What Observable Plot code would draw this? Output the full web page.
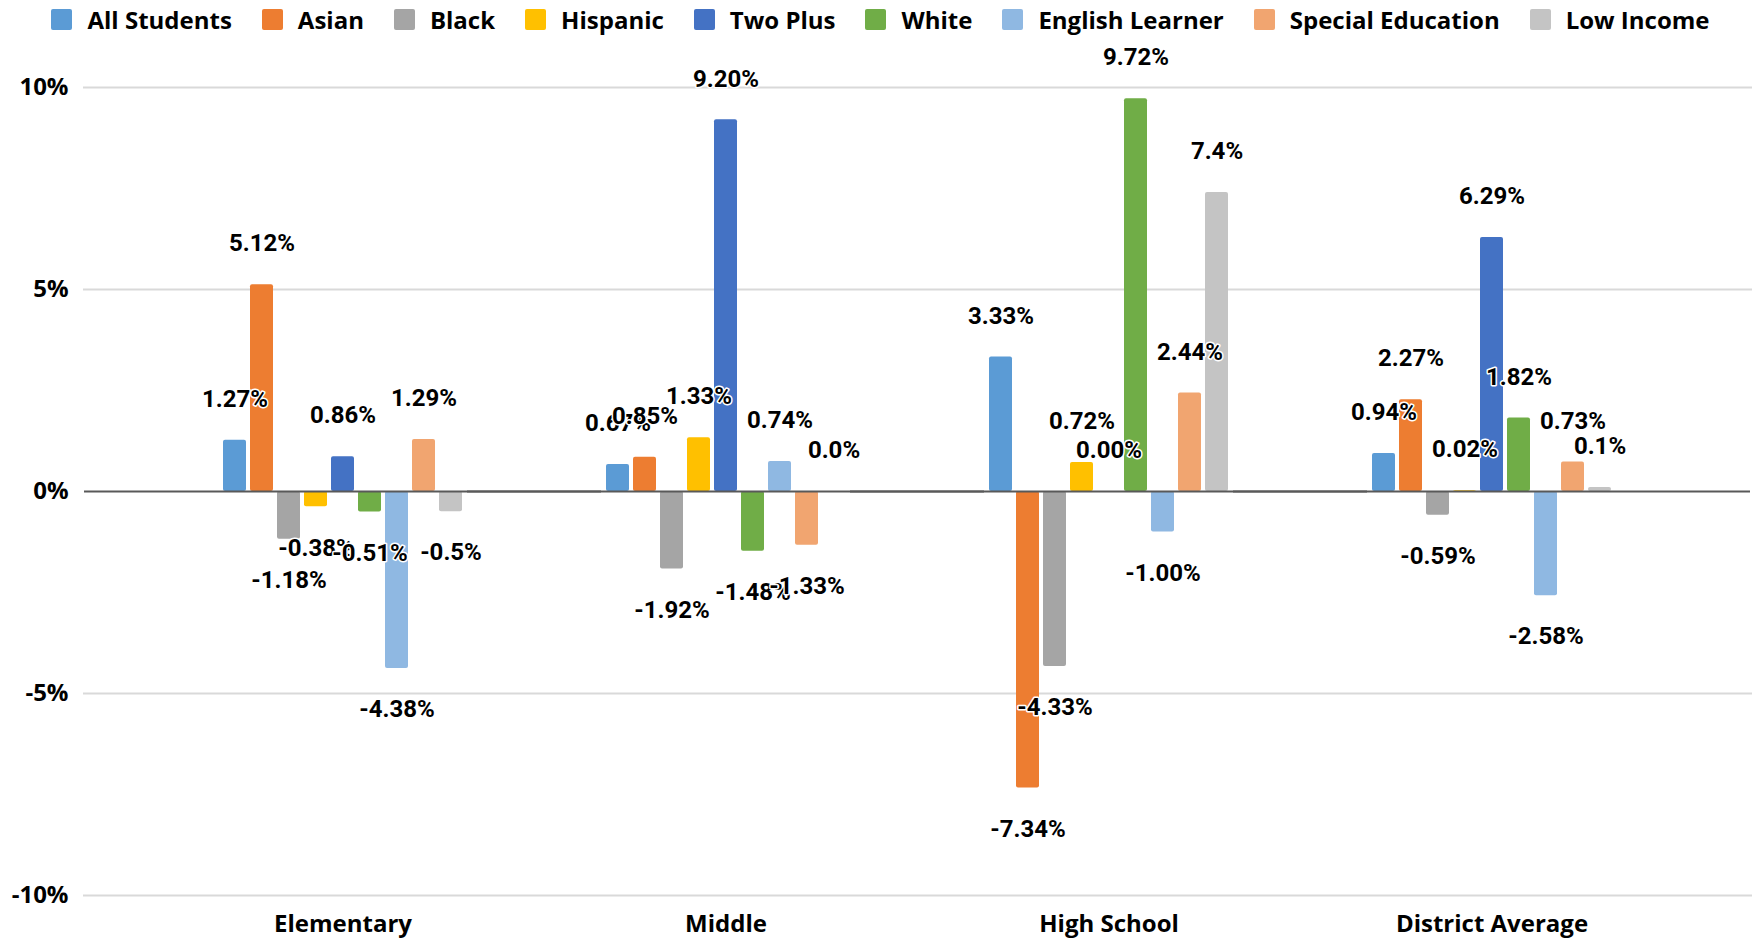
<!DOCTYPE html>
<html>
<head>
<meta charset="utf-8">
<script src="https://cdn.jsdelivr.net/npm/d3@7"></script>
<script src="https://cdn.jsdelivr.net/npm/@observablehq/plot@0.6"></script>
<style>
  html, body { margin: 0; padding: 0; background: #fff; }
  body { width: 1761px; height: 938px; overflow: hidden; font-family: "Open Sans", sans-serif; }
  #legend { height: 38px; display: flex; justify-content: center; align-items: center; }
  .item { display: flex; align-items: center; margin: 0 15px; font-weight: 700; font-size: 24px; color: #000; }
  .swatch { width: 21px; height: 21px; margin-right: 15px; border-radius: 2px; }
  #chart { position: relative; width: 1761px; height: 900px; }
  #chart svg { position: absolute; left: 0; top: 0; }
</style>
</head>
<body>
<div id="legend"></div>
<div id="chart"></div>
<script>
const categories = ["Elementary", "Middle", "High School", "District Average"];
const series = ["All Students", "Asian", "Black", "Hispanic", "Two Plus", "White", "English Learner", "Special Education", "Low Income"];
const seriesColors = ["#5B9BD5", "#ED7D31", "#A5A5A5", "#FFC000", "#4472C4", "#70AD47", "#8FB8E2", "#F1A570", "#C4C4C4"];

const elementaryValues = [1.27, 5.12, -1.18, -0.38, 0.86, -0.51, -4.38, 1.29, -0.5];
const middleValues     = [0.67, 0.85, -1.92, 1.33, 9.20, -1.48, 0.74, -1.33, 0.0];
const highSchoolValues = [3.33, -7.34, -4.33, 0.72, 0.00, 9.72, -1.00, 2.44, 7.4];
const districtValues   = [0.94, 2.27, -0.59, 0.02, 6.29, 1.82, -2.58, 0.73, 0.1];

const elementaryLabels = ["1.27%", "5.12%", "-1.18%", "-0.38%", "0.86%", "-0.51%", "-4.38%", "1.29%", "-0.5%"];
const middleLabels     = ["0.67%", "0.85%", "-1.92%", "1.33%", "9.20%", "-1.48%", "0.74%", "-1.33%", "0.0%"];
const highSchoolLabels = ["3.33%", "-7.34%", "-4.33%", "0.72%", "0.00%", "9.72%", "-1.00%", "2.44%", "7.4%"];
const districtLabels   = ["0.94%", "2.27%", "-0.59%", "0.02%", "6.29%", "1.82%", "-2.58%", "0.73%", "0.1%"];

const yTicks = [-10, -5, 0, 5, 10];

// build table
const valuesByCategory = [elementaryValues, middleValues, highSchoolValues, districtValues];
const labelsByCategory = [elementaryLabels, middleLabels, highSchoolLabels, districtLabels];
const data = categories.flatMap((c, ci) => series.map((s, si) => ({
  category: c, series: s, value: valuesByCategory[ci][si], label: labelsByCategory[ci][si]
})));

// legend
const legend = document.getElementById("legend");
series.forEach((s, i) => {
  const item = document.createElement("div");
  item.className = "item";
  const sw = document.createElement("div");
  sw.className = "swatch";
  sw.style.background = seriesColors[i];
  const t = document.createElement("span");
  t.textContent = s;
  item.appendChild(sw); item.appendChild(t);
  legend.appendChild(item);
});

const W = 1761, H = 900, mL = 83, mR = 9, mT = 49, mB = 43;
const fontStyle = {fontFamily: "'Open Sans', sans-serif", fontSize: "24px", fontWeight: "700", color: "#000", background: "transparent"};

// background: gridlines + y axis
const bg = Plot.plot({
  width: W, height: H, marginLeft: mL, marginRight: mR, marginTop: mT, marginBottom: mB,
  style: fontStyle,
  y: {domain: [-10, 10], ticks: yTicks, tickFormat: d => d + "%", tickSize: 0, tickPadding: 15, label: null},
  marks: [
    Plot.ruleY(yTicks.filter(d => d !== 0), {stroke: "#D9D9D9", strokeWidth: 2})
  ]
});

// foreground: grouped bars
const fg = Plot.plot({
  width: W, height: H, marginLeft: mL, marginRight: mR, marginTop: mT, marginBottom: mB,
  style: fontStyle,
  fx: {domain: categories, paddingInner: 0.375, paddingOuter: 0.3607, axis: "bottom", label: null, tickSize: 0, tickPadding: 19},
  x: {domain: series, paddingInner: 0.15, paddingOuter: 0, axis: null},
  y: {domain: [-10, 10], axis: null},
  color: {domain: series, range: seriesColors},
  marks: [
    Plot.barY(data, {fx: "category", x: "series", y: "value", fill: "series", rx: 2}),
    Plot.ruleY([0], {stroke: "#595959", strokeWidth: 2, insetLeft: -139, insetRight: -139}),
    Plot.text(data, {filter: d => d.value >= 0, fx: "category", x: "series", y: "value", text: "label", dy: -41,
      fontFamily: "Roboto", fontSize: 24, fontWeight: 700, fill: "#000", stroke: "#fff", strokeWidth: 3}),
    Plot.text(data, {filter: d => d.value < 0, fx: "category", x: "series", y: "value", text: "label", dy: 41,
      fontFamily: "Roboto", fontSize: 24, fontWeight: 700, fill: "#000", stroke: "#fff", strokeWidth: 3})
  ]
});

const chart = document.getElementById("chart");
chart.appendChild(bg);
chart.appendChild(fg);
</script>
</body>
</html>
